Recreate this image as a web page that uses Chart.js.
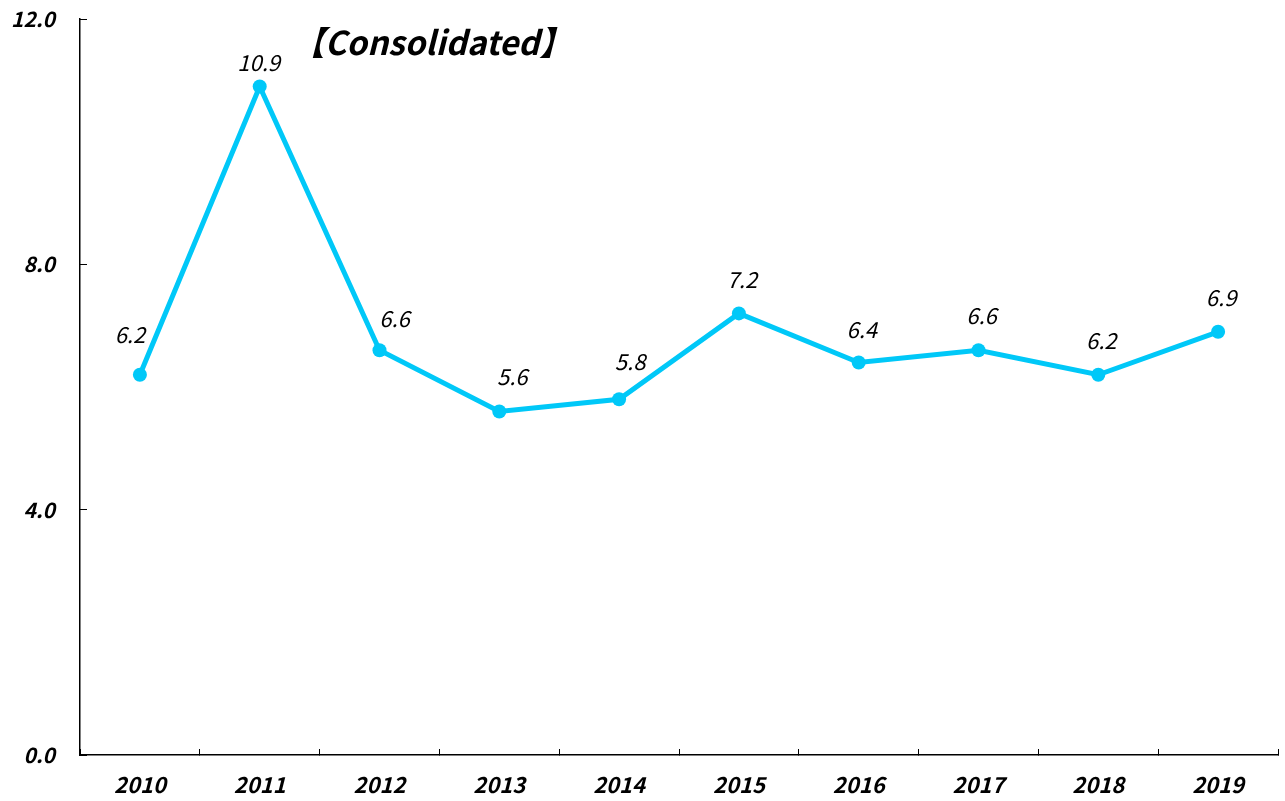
<!DOCTYPE html>
<html>
<head>
<meta charset="utf-8">
<script src="https://cdn.jsdelivr.net/npm/chart.js@4"></script>
<style>
  html, body { margin: 0; padding: 0; background: #fff; }
  #wrap { width: 1285px; height: 801px; }
</style>
</head>
<body>
<div id="wrap"><canvas id="c"></canvas></div>
<script>
// --- data
const years = ["2010","2011","2012","2013","2014","2015","2016","2017","2018","2019"];
const values = [6.2, 10.9, 6.6, 5.6, 5.8, 7.2, 6.4, 6.6, 6.2, 6.9];
const yTicks = [0, 4, 8, 12];
const titleText = "【Consolidated】";

// label offsets from each point (style only)
const labelDx = [-10, -1, 15, 13, 11, 3, 3, 3, 3, 3];
const labelDy = [-40, -24, -32, -35, -38, -34, -33, -35, -34, -34];

const FONT = "'Noto Sans CJK JP', 'DejaVu Sans', sans-serif";
const LINE = "#00c8f8";

// --- labels + title
const extras = {
    id: "extras",
    afterDatasetsDraw(chart) {
        const ctx = chart.ctx;
        const meta = chart.getDatasetMeta(0);
        ctx.save();
        ctx.fillStyle = "#000";
        ctx.textAlign = "center";
        ctx.textBaseline = "middle";
        ctx.font = "italic 22px " + FONT;
        meta.data.forEach((pt, i) => {
            ctx.fillText(values[i].toFixed(1), pt.x + labelDx[i], pt.y + labelDy[i]);
        });
        ctx.font = "italic bold 33px " + FONT;
        ctx.fillText(titleText, 432, 42);
        ctx.restore();
    }
};

new Chart(document.getElementById("c"), {
    type: "line",
    data: {
        labels: years,
        datasets: [{
            data: values,
            borderColor: LINE,
            backgroundColor: LINE,
            borderWidth: 5,
            pointRadius: 7,
            pointBackgroundColor: LINE,
            pointBorderWidth: 0,
            tension: 0
        }]
    },
    options: {
        responsive: true,
        maintainAspectRatio: false,
        animation: false,
        layout: { padding: { top: 19, right: 2, left: 0, bottom: 0 } },
        plugins: { legend: { display: false }, tooltip: { enabled: false } },
        scales: {
            x: {
                offset: true,
                grid: { offset: true, drawOnChartArea: false, tickLength: -6, color: "#000", lineWidth: 1 },
                border: { color: "#000", width: 1.5 },
                ticks: { padding: 22, color: "#000", font: { family: FONT, size: 22, style: "italic", weight: "bold" } },
                afterFit(s) { s.height = 46; s.paddingLeft = 0; s.paddingRight = 0; }
            },
            y: {
                min: 0,
                max: 12,
                afterBuildTicks(s) { s.ticks = yTicks.map(v => ({ value: v })); },
                grid: { drawOnChartArea: false, tickLength: -7, color: "#000", lineWidth: 1 },
                border: { color: "#000", width: 1.5 },
                ticks: {
                    padding: 32, color: "#000",
                    font: { family: FONT, size: 21, style: "italic", weight: "bold" },
                    callback: v => v.toFixed(1)
                },
                afterFit(s) { s.width = 80; s.paddingTop = 0; s.paddingBottom = 0; }
            }
        }
    },
    plugins: [extras]
});
</script>
</body>
</html>
